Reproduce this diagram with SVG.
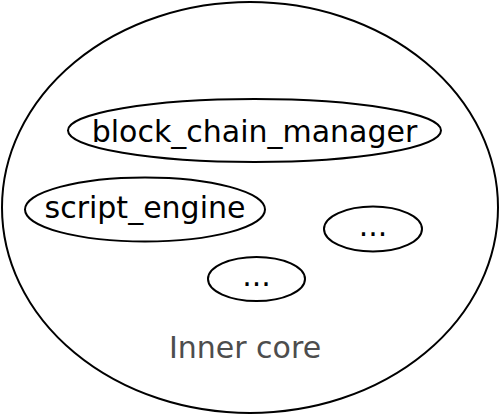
<svg xmlns="http://www.w3.org/2000/svg" width="500" height="416" viewBox="0 0 500 416">
<style>
.n ellipse{fill:none;stroke:#000;stroke-width:2}
text{font-family:"DejaVu Sans",sans-serif;font-size:30px;text-anchor:middle;fill:#000}
.lbl{fill:#4d4d4d}
</style>
<rect width="500" height="416" fill="#fff"/>
<g id="inner_core" class="n">
<ellipse cx="250" cy="207.5" rx="248" ry="205.5"/>
<text class="lbl" x="245" y="358">Inner core</text>
</g>
<g id="block_chain_manager" class="n">
<ellipse cx="254.5" cy="130.5" rx="186.5" ry="31.5"/>
<text x="254.5" y="142">block_chain_manager</text>
</g>
<g id="script_engine" class="n">
<ellipse cx="145" cy="209.5" rx="120" ry="32"/>
<text x="145" y="218">script_engine</text>
</g>
<g id="etc1" class="n">
<ellipse cx="373" cy="229" rx="49" ry="22.5"/>
<text x="373" y="236">...</text>
</g>
<g id="etc2" class="n">
<ellipse cx="256.5" cy="279" rx="48.5" ry="22"/>
<text x="256.5" y="286">...</text>
</g>
<g id="connectors"/>
</svg>
